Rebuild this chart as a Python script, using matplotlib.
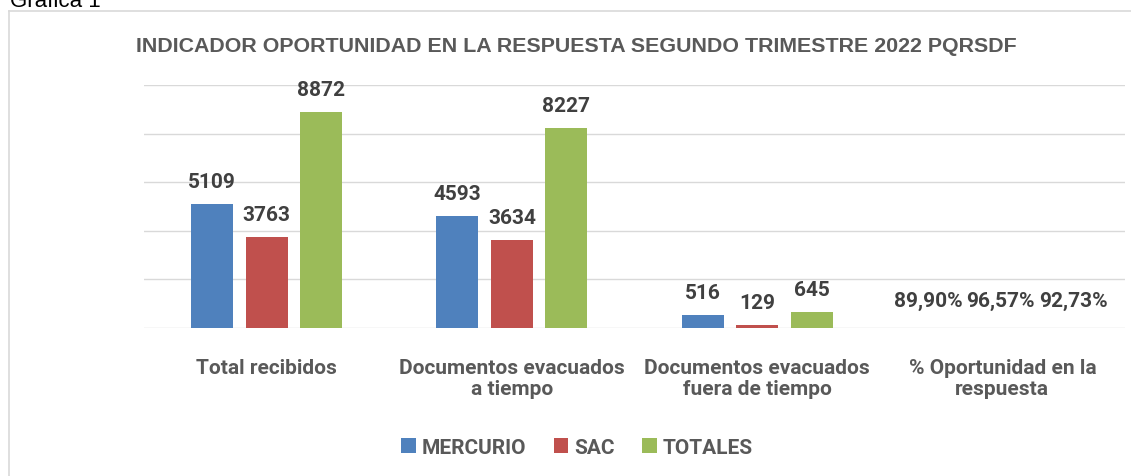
import matplotlib
matplotlib.use("Agg")
import matplotlib.pyplot as plt
from matplotlib.lines import Line2D
from matplotlib.patches import Patch
import numpy as np

categories = ["Total recibidos", "Documentos evacuados\na tiempo",
              "Documentos evacuados\nfuera de tiempo", "% Oportunidad en la\nrespuesta"]
series_names = ["MERCURIO", "SAC", "TOTALES"]
mercurio = [5109, 4593, 516, 0.8990]
sac = [3763, 3634, 129, 0.9657]
totales = [8872, 8227, 645, 0.9273]
title = "INDICADOR OPORTUNIDAD EN LA RESPUESTA SEGUNDO TRIMESTRE 2022 PQRSDF"
colors = ["#4F81BD", "#C0504D", "#9BBB59"]

FONT = "Roboto"
W, H = 1131, 477
fig = plt.figure(figsize=(W / 100, H / 100), dpi=100)
fig.patch.set_facecolor("white")

# frame of the chart object
fig.add_artist(Line2D([9 / W, 9 / W], [0, 1 - 12 / H], color="#D9D9D9", lw=1.2, transform=fig.transFigure))
fig.add_artist(Line2D([9 / W, 1], [1 - 12 / H, 1 - 12 / H], color="#D9D9D9", lw=1.2, transform=fig.transFigure))
fig.text(10 / W, 1 - 7 / H, "Gráfica 1", fontsize=16, family="Liberation Sans",
         color="#000000", ha="left", va="baseline")

left, right, top, bottom = 144, 1125, 86, 329
ax = fig.add_axes([left / W, 1 - bottom / H, (right - left) / W, (bottom - top) / H])
ax.set_xlim(-0.5, 3.5)
ax.set_ylim(0, 10000)
for s in ax.spines.values():
    s.set_visible(False)
ax.set_yticks(np.arange(0, 10001, 2000))
ax.yaxis.grid(True, color="#D9D9D9", lw=1.0)
ax.set_axisbelow(True)
ax.tick_params(axis="y", left=False, labelleft=False)
ax.tick_params(axis="x", bottom=False, pad=18)

x = np.arange(len(categories))
bw = 0.171
off = 0.222
data = [mercurio, sac, totales]
pct_offsets = [-20, -2, 17]  # px shifts used for crowded percentage labels
for i, (vals, c, name) in enumerate(zip(data, colors, series_names)):
    xs = x + (i - 1) * off
    ax.bar(xs, vals, width=bw, color=c, label=name, zorder=2)
    for j, (xx, v) in enumerate(zip(xs, vals)):
        if v < 1:
            lab = f"{v*100:.2f}%".replace(".", ",")
            dx = pct_offsets[i] * 0.72
            dy = 22 * 0.72
        else:
            lab = f"{v:d}"
            dx = 0
            dy = 17 * 0.72
        ax.annotate(lab, (xx, v), xytext=(dx, dy), textcoords="offset points",
                    ha="center", va="baseline", fontsize=15, fontweight="bold",
                    family=FONT, color="#404040")

ax.set_xticks(x)
ax.set_xticklabels(categories, fontsize=15, fontweight="bold", family=FONT,
                   color="#595959", linespacing=1.15, va="top")

fig.text(576 / W, 1 - 46 / H, title, ha="center", va="center", fontsize=15.4,
         fontweight="bold", family="Liberation Sans", color="#595959")

handles = [Patch(facecolor=c, edgecolor="none") for c in colors]
leg = fig.legend(handles, series_names, loc="center", bbox_to_anchor=(577 / W, 1 - 448 / H),
                 ncol=3, frameon=False, prop={"family": FONT, "weight": "bold", "size": 15},
                 handlelength=0.7, handleheight=0.7, handletextpad=0.3, columnspacing=1.3)
for t in leg.get_texts():
    t.set_color("#595959")

fig.savefig("out.png", dpi=100, facecolor="white")
